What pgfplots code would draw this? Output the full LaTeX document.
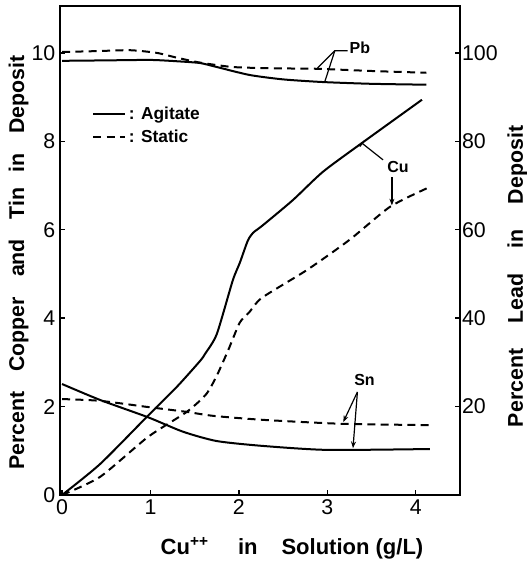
\documentclass[border=0pt]{standalone}
\usepackage{fontspec}
\setmainfont{Liberation Sans}
\usepackage{pgfplots}
\pgfplotsset{compat=1.18}
\usetikzlibrary{arrows.meta}

\pgfplotsset{
  common/.style={
    scale only axis, width=300pt, height=366.75pt,
    xmin=-0.023, xmax=4.5,
    clip mode=individual,
    axis line style={line width=1.8pt},
    tick style={black, line width=1pt},
    major tick length=4pt,
    tick align=inside,
    /pgf/number format/assume math mode=true,
    ticklabel style={font=\fontsize{16}{18}\selectfont},
  },
  agit/.style={black, line width=1.5pt, smooth, tension=0.4},
  stat/.style={black, line width=1.5pt, smooth, tension=0.4, dash pattern=on 6pt off 4pt},
}

\begin{document}
\begin{tikzpicture}
\begin{axis}[common,
    ymin=0, ymax=11.06,
    xtick={0,1,2,3,4}, ytick={0,2,4,6,8,10},
    xtick pos=bottom, ytick pos=left,
    legend style={at={(rel axis cs:0.07,0.805)}, anchor=north west, draw=none, fill=none,
      font=\bfseries\fontsize{13}{15}\selectfont, row sep=2pt},
    legend cell align=left,
    legend image code/.code={\draw[#1] (0pt,0pt) -- (24pt,0pt);},
]
% Cu
\addplot[agit] coordinates {(0,0)(0.43,0.70)(0.97,1.79)(1.3,2.45)(1.56,3.03)(1.62,3.20)(1.75,3.64)(1.93,4.85)(2.01,5.25)(2.10,5.75)(2.16,5.93)(2.27,6.10)(2.61,6.67)(2.95,7.31)(3.39,7.96)(4.07,8.94)};
\addlegendentry{: Agitate}
\addplot[stat] coordinates {(0,0)(0.43,0.41)(0.97,1.31)(1.41,1.88)(1.63,2.28)(1.75,2.70)(1.88,3.28)(2.01,3.90)(2.12,4.14)(2.26,4.46)(2.77,5.09)(3.25,5.77)(3.71,6.52)(4.14,6.95)};
\addlegendentry{: Static}
% Sn
\addplot[agit, forget plot] coordinates {(0,2.51)(0.43,2.15)(0.97,1.76)(1.37,1.43)(1.75,1.22)(2.27,1.11)(3.0,1.02)(4.16,1.04)};
\addplot[stat, forget plot] coordinates {(0,2.17)(0.43,2.13)(0.97,1.99)(1.41,1.88)(1.71,1.79)(2.27,1.70)(3.17,1.61)(4.19,1.58)};

% annotations
\begin{scope}[line width=0.9pt, font=\bfseries\fontsize{12}{14}\selectfont]
\node[anchor=west, inner sep=1pt] at (axis cs:3.23,10.12) {Pb};
\draw (axis cs:3.23,10.05) -- (axis cs:3.085,10.05) -- (axis cs:2.89,9.66);
\draw (axis cs:3.085,10.05) -- (axis cs:2.97,9.34);
\node at (axis cs:3.80,7.42) {Cu};
\draw[-{Bar[width=6pt]}] (axis cs:3.63,7.58) -- (axis cs:3.39,7.96);
\draw[-{Stealth[length=5pt]}] (axis cs:3.73,7.19) -- (axis cs:3.73,6.55);
\node at (axis cs:3.42,2.60) {Sn};
\draw[-{Stealth[length=5pt]}] (axis cs:3.34,2.33) -- (axis cs:3.18,1.65);
\draw[-{Stealth[length=5pt]}] (axis cs:3.34,2.33) -- (axis cs:3.29,1.06);
\end{scope}

\node[rotate=90, font=\bfseries\fontsize{16}{18}\selectfont]
  at ([xshift=-31pt]rel axis cs:0,0.475)
  {Percent\hspace{15pt}Copper\hspace{15pt}and\hspace{15pt}Tin\hspace{11pt}in\hspace{15pt}Deposit};
\node[font=\bfseries\fontsize{16.5}{18}\selectfont]
  at ([yshift=-40pt]rel axis cs:0.58,0)
  {Cu\textsuperscript{++}\hspace{22pt}in\hspace{18pt}Solution (g/L)};
\end{axis}

\begin{axis}[common,
    ymin=0, ymax=110.6,
    axis x line=none, axis y line*=right,
    ytick={20,40,60,80,100},
    yticklabel style={anchor=west, xshift=-2pt},
]
% Pb
\addplot[agit] coordinates {(0,98.2)(0.5,98.3)(1.0,98.4)(1.3,98.1)(1.56,97.7)(1.75,96.8)(2.12,95.0)(2.5,94.0)(2.95,93.4)(3.5,93.0)(4.12,92.8)};
\addplot[stat] coordinates {(0,100.2)(0.4,100.4)(0.77,100.6)(1.07,100.0)(1.3,98.9)(1.56,97.8)(1.93,96.8)(2.4,96.5)(2.88,96.4)(3.5,95.9)(4.12,95.5)};
\node[rotate=90, font=\bfseries\fontsize{16}{18}\selectfont]
  at ([xshift=43pt]rel axis cs:1,0.447)
  {Percent\hspace{19pt}Lead\hspace{19pt}in\hspace{19pt}Deposit};
\end{axis}
\pgfresetboundingbox
\path[use as bounding box] (-45pt,-54.75pt) rectangle (349.5pt,371.25pt);
\end{tikzpicture}
\end{document}
